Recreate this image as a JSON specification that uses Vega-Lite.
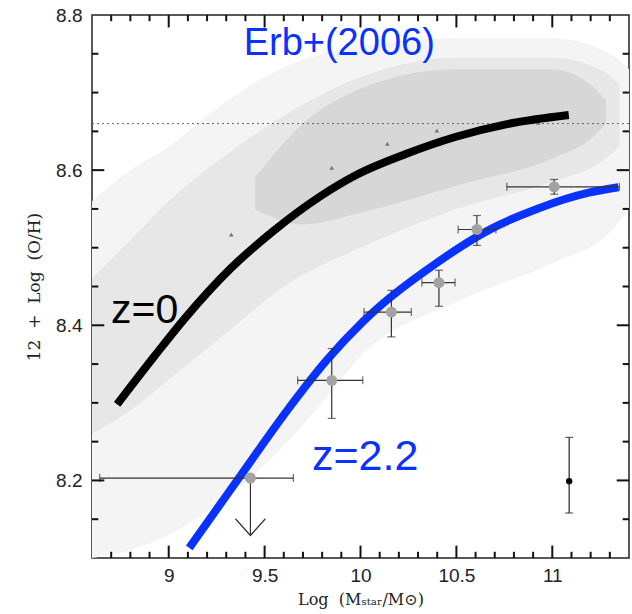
{
  "$schema": "https://vega.github.io/schema/vega-lite/v6.json",
  "width": 537,
  "height": 543,
  "autosize": {"type": "none"},
  "padding": {"left": 92, "top": 15, "right": 3, "bottom": 56},
  "background": "white",
  "config": {
    "view": {"stroke": "#222", "strokeWidth": 1.5},
    "axis": {"grid": false, "domain": false, "ticks": false, "zindex": 1, "labelOverlap": false, "labelFlush": false}
  },
  "datasets": {
    "sparse": [
      {"x": 8.6, "lo": 8.10, "hi": 8.56},
      {"x": 8.8, "lo": 8.11, "hi": 8.60},
      {"x": 9.0, "lo": 8.13, "hi": 8.63},
      {"x": 9.2, "lo": 8.16, "hi": 8.67},
      {"x": 9.5, "lo": 8.22, "hi": 8.72},
      {"x": 9.8, "lo": 8.30, "hi": 8.75},
      {"x": 10.0, "lo": 8.36, "hi": 8.76},
      {"x": 10.5, "lo": 8.43, "hi": 8.77},
      {"x": 11.0, "lo": 8.48, "hi": 8.77},
      {"x": 11.3, "lo": 8.52, "hi": 8.75},
      {"x": 11.4, "lo": 8.55, "hi": 8.73}
    ],
    "mid": [
      {"x": 8.6, "lo": 8.26, "hi": 8.46},
      {"x": 8.8, "lo": 8.29, "hi": 8.51},
      {"x": 9.0, "lo": 8.33, "hi": 8.56},
      {"x": 9.3, "lo": 8.39, "hi": 8.62},
      {"x": 9.6, "lo": 8.45, "hi": 8.67},
      {"x": 10.0, "lo": 8.50, "hi": 8.72},
      {"x": 10.5, "lo": 8.55, "hi": 8.745},
      {"x": 11.0, "lo": 8.585, "hi": 8.745},
      {"x": 11.25, "lo": 8.61, "hi": 8.73},
      {"x": 11.35, "lo": 8.63, "hi": 8.71}
    ],
    "dense": [
      {"x": 9.45, "lo": 8.55, "hi": 8.59},
      {"x": 9.7, "lo": 8.53, "hi": 8.66},
      {"x": 10.0, "lo": 8.545, "hi": 8.705},
      {"x": 10.5, "lo": 8.58, "hi": 8.73},
      {"x": 11.0, "lo": 8.615, "hi": 8.73},
      {"x": 11.2, "lo": 8.64, "hi": 8.71},
      {"x": 11.28, "lo": 8.66, "hi": 8.69}
    ],
    "medians": [
      {"x": 9.326, "y": 8.517},
      {"x": 9.85, "y": 8.603},
      {"x": 10.14, "y": 8.634},
      {"x": 10.398, "y": 8.651},
      {"x": 10.927, "y": 8.661}
    ],
    "z0": [
      {"x": 8.731, "y": 8.298},
      {"x": 8.925, "y": 8.360},
      {"x": 9.081, "y": 8.408},
      {"x": 9.322, "y": 8.473},
      {"x": 9.548, "y": 8.522},
      {"x": 9.789, "y": 8.566},
      {"x": 9.98, "y": 8.594},
      {"x": 10.239, "y": 8.621},
      {"x": 10.498, "y": 8.643},
      {"x": 10.758, "y": 8.659},
      {"x": 11.086, "y": 8.671}
    ],
    "z22": [
      {"x": 9.107, "y": 8.113},
      {"x": 9.374, "y": 8.206},
      {"x": 9.617, "y": 8.290},
      {"x": 9.824, "y": 8.355},
      {"x": 10.014, "y": 8.405},
      {"x": 10.395, "y": 8.480},
      {"x": 10.671, "y": 8.523},
      {"x": 10.93, "y": 8.551},
      {"x": 11.19, "y": 8.571},
      {"x": 11.345, "y": 8.578}
    ],
    "erb": [
      {"x": 9.426, "y": 8.203, "xlo": 8.64, "xhi": 9.65, "ylo": null, "yhi": null},
      {"x": 9.85, "y": 8.329, "xlo": 9.672, "xhi": 10.012, "ylo": 8.280, "yhi": 8.370},
      {"x": 10.161, "y": 8.417, "xlo": 10.018, "xhi": 10.265, "ylo": 8.385, "yhi": 8.445},
      {"x": 10.409, "y": 8.455, "xlo": 10.32, "xhi": 10.493, "ylo": 8.4245, "yhi": 8.471},
      {"x": 10.607, "y": 8.5235, "xlo": 10.509, "xhi": 10.706, "ylo": 8.503, "yhi": 8.5415},
      {"x": 11.01, "y": 8.5785, "xlo": 10.763, "xhi": 11.35, "ylo": 8.569, "yhi": 8.588}
    ],
    "typical": [
      {"x": 11.088, "y": 8.199, "ylo": 8.158, "yhi": 8.2555}
    ],
    "limit": [
      {"x": 9.426, "y": 8.203, "y2": 8.129}
    ],
    "arrowhead": [
      {"i": 1, "x": 9.348, "y": 8.1506},
      {"i": 2, "x": 9.426, "y": 8.129},
      {"i": 3, "x": 9.504, "y": 8.1506}
    ],
    "solar": [
      {"y": 8.66}
    ],
    "xmajor": [{"v": 9}, {"v": 9.5}, {"v": 10}, {"v": 10.5}, {"v": 11}],
    "xminor": [{"v": 8.7}, {"v": 8.8}, {"v": 8.9}, {"v": 9.1}, {"v": 9.2}, {"v": 9.3}, {"v": 9.4}, {"v": 9.6}, {"v": 9.7}, {"v": 9.8}, {"v": 9.9}, {"v": 10.1}, {"v": 10.2}, {"v": 10.3}, {"v": 10.4}, {"v": 10.6}, {"v": 10.7}, {"v": 10.8}, {"v": 10.9}, {"v": 11.1}, {"v": 11.2}, {"v": 11.3}],
    "ymajor": [{"v": 8.2}, {"v": 8.4}, {"v": 8.6}],
    "yminor": [{"v": 8.15}, {"v": 8.25}, {"v": 8.3}, {"v": 8.35}, {"v": 8.45}, {"v": 8.5}, {"v": 8.55}, {"v": 8.65}, {"v": 8.7}, {"v": 8.75}],
    "lab_erb": [{"x": 9.889, "y": 8.748, "label": "Erb+(2006)"}],
    "lab_z0": [{"x": 8.875, "y": 8.403, "label": "z=0"}],
    "lab_z22": [{"x": 10.024, "y": 8.213, "label": "z=2.2"}]
  },
  "layer": [
    {
      "data": {"name": "sparse"},
      "mark": {"type": "area", "color": "#f4f4f4", "interpolate": "monotone"},
      "encoding": {
        "x": {"field": "x", "type": "quantitative", "scale": {"domain": [8.6, 11.4], "nice": false, "zero": false},
          "axis": {
            "orient": "bottom",
            "values": [9, 9.5, 10, 10.5, 11],
            "format": "~g",
            "labelPadding": 8, "labelFont": "Liberation Sans", "labelFontSize": 19, "labelColor": "#222",
            "title": "Log\u00a0\u00a0(Mₛₜₐᵣ/M⊙)", "titleFont": "DejaVu Serif", "titleFontSize": 16,
            "titleFontWeight": "normal", "titleColor": "#222", "titlePadding": 6
          }},
        "y": {"field": "lo", "type": "quantitative", "scale": {"domain": [8.1, 8.8], "nice": false, "zero": false},
          "axis": {
            "orient": "left",
            "values": [8.2, 8.4, 8.6, 8.8],
            "format": "~g",
            "labelPadding": 10, "labelFont": "Liberation Sans", "labelFontSize": 19, "labelColor": "#222",
            "title": "12\u00a0\u00a0+\u00a0\u00a0Log\u00a0\u00a0(O/H)", "titleFont": "DejaVu Serif", "titleFontSize": 17,
            "titleFontWeight": "normal", "titleColor": "#222", "titlePadding": 12
          }},
        "y2": {"field": "hi"}
      }
    },
    {
      "data": {"name": "mid"},
      "mark": {"type": "area", "color": "#e7e7e7", "interpolate": "monotone"},
      "encoding": {
        "x": {"field": "x", "type": "quantitative", "scale": {"domain": [8.6, 11.4], "nice": false, "zero": false}, "axis": null},
        "y": {"field": "lo", "type": "quantitative", "scale": {"domain": [8.1, 8.8], "nice": false, "zero": false}, "axis": null},
        "y2": {"field": "hi"}
      }
    },
    {
      "data": {"name": "dense"},
      "mark": {"type": "area", "color": "#d7d7d7", "interpolate": "monotone"},
      "encoding": {
        "x": {"field": "x", "type": "quantitative", "scale": {"domain": [8.6, 11.4], "nice": false, "zero": false}, "axis": null},
        "y": {"field": "lo", "type": "quantitative", "scale": {"domain": [8.1, 8.8], "nice": false, "zero": false}, "axis": null},
        "y2": {"field": "hi"}
      }
    },
    {
      "data": {"name": "solar"},
      "mark": {"type": "rule", "strokeDash": [2, 3], "color": "#666", "strokeWidth": 1},
      "encoding": {
        "y": {"field": "y", "type": "quantitative", "scale": {"domain": [8.1, 8.8], "nice": false, "zero": false}, "axis": null}
      }
    },
    {
      "data": {"name": "medians"},
      "mark": {"type": "point", "shape": "triangle-up", "filled": true, "size": 22, "color": "#777", "opacity": 1},
      "encoding": {
        "x": {"field": "x", "type": "quantitative", "scale": {"domain": [8.6, 11.4], "nice": false, "zero": false}, "axis": null},
        "y": {"field": "y", "type": "quantitative", "scale": {"domain": [8.1, 8.8], "nice": false, "zero": false}, "axis": null}
      }
    },
    {
      "data": {"name": "z0"},
      "mark": {"type": "line", "color": "#000", "strokeWidth": 8, "interpolate": "monotone", "strokeCap": "butt"},
      "encoding": {
        "x": {"field": "x", "type": "quantitative", "scale": {"domain": [8.6, 11.4], "nice": false, "zero": false}, "axis": null},
        "y": {"field": "y", "type": "quantitative", "scale": {"domain": [8.1, 8.8], "nice": false, "zero": false}, "axis": null}
      }
    },
    {
      "data": {"name": "z22"},
      "mark": {"type": "line", "color": "#0a32ff", "strokeWidth": 8, "interpolate": "monotone", "strokeCap": "butt"},
      "encoding": {
        "x": {"field": "x", "type": "quantitative", "scale": {"domain": [8.6, 11.4], "nice": false, "zero": false}, "axis": null},
        "y": {"field": "y", "type": "quantitative", "scale": {"domain": [8.1, 8.8], "nice": false, "zero": false}, "axis": null}
      }
    },
    {
      "data": {"name": "erb"},
      "mark": {"type": "rule", "color": "#333", "strokeWidth": 1.2},
      "encoding": {
        "x": {"field": "xlo", "type": "quantitative", "scale": {"domain": [8.6, 11.4], "nice": false, "zero": false}, "axis": null},
        "x2": {"field": "xhi"},
        "y": {"field": "y", "type": "quantitative", "scale": {"domain": [8.1, 8.8], "nice": false, "zero": false}, "axis": null}
      }
    },
    {
      "data": {"name": "erb"},
      "mark": {"type": "tick", "orient": "vertical", "size": 8, "thickness": 1.2, "color": "#333"},
      "encoding": {
        "x": {"field": "xlo", "type": "quantitative", "scale": {"domain": [8.6, 11.4], "nice": false, "zero": false}, "axis": null},
        "y": {"field": "y", "type": "quantitative", "scale": {"domain": [8.1, 8.8], "nice": false, "zero": false}, "axis": null}
      }
    },
    {
      "data": {"name": "erb"},
      "mark": {"type": "tick", "orient": "vertical", "size": 8, "thickness": 1.2, "color": "#333"},
      "encoding": {
        "x": {"field": "xhi", "type": "quantitative", "scale": {"domain": [8.6, 11.4], "nice": false, "zero": false}, "axis": null},
        "y": {"field": "y", "type": "quantitative", "scale": {"domain": [8.1, 8.8], "nice": false, "zero": false}, "axis": null}
      }
    },
    {
      "data": {"name": "erb"},
      "transform": [{"filter": "isValid(datum.ylo)"}],
      "mark": {"type": "rule", "color": "#333", "strokeWidth": 1.2},
      "encoding": {
        "x": {"field": "x", "type": "quantitative", "scale": {"domain": [8.6, 11.4], "nice": false, "zero": false}, "axis": null},
        "y": {"field": "ylo", "type": "quantitative", "scale": {"domain": [8.1, 8.8], "nice": false, "zero": false}, "axis": null},
        "y2": {"field": "yhi"}
      }
    },
    {
      "data": {"name": "erb"},
      "transform": [{"filter": "isValid(datum.ylo)"}],
      "mark": {"type": "tick", "orient": "horizontal", "size": 8, "thickness": 1.2, "color": "#333"},
      "encoding": {
        "x": {"field": "x", "type": "quantitative", "scale": {"domain": [8.6, 11.4], "nice": false, "zero": false}, "axis": null},
        "y": {"field": "ylo", "type": "quantitative", "scale": {"domain": [8.1, 8.8], "nice": false, "zero": false}, "axis": null}
      }
    },
    {
      "data": {"name": "erb"},
      "transform": [{"filter": "isValid(datum.yhi)"}],
      "mark": {"type": "tick", "orient": "horizontal", "size": 8, "thickness": 1.2, "color": "#333"},
      "encoding": {
        "x": {"field": "x", "type": "quantitative", "scale": {"domain": [8.6, 11.4], "nice": false, "zero": false}, "axis": null},
        "y": {"field": "yhi", "type": "quantitative", "scale": {"domain": [8.1, 8.8], "nice": false, "zero": false}, "axis": null}
      }
    },
    {
      "data": {"name": "limit"},
      "mark": {"type": "rule", "color": "#333", "strokeWidth": 1.2},
      "encoding": {
        "x": {"field": "x", "type": "quantitative", "scale": {"domain": [8.6, 11.4], "nice": false, "zero": false}, "axis": null},
        "y": {"field": "y", "type": "quantitative", "scale": {"domain": [8.1, 8.8], "nice": false, "zero": false}, "axis": null},
        "y2": {"field": "y2"}
      }
    },
    {
      "data": {"name": "arrowhead"},
      "mark": {"type": "line", "color": "#333", "strokeWidth": 1.2},
      "encoding": {
        "x": {"field": "x", "type": "quantitative", "scale": {"domain": [8.6, 11.4], "nice": false, "zero": false}, "axis": null},
        "y": {"field": "y", "type": "quantitative", "scale": {"domain": [8.1, 8.8], "nice": false, "zero": false}, "axis": null},
        "order": {"field": "i"}
      }
    },
    {
      "data": {"name": "erb"},
      "mark": {"type": "circle", "size": 120, "color": "#a3a3a3", "opacity": 1},
      "encoding": {
        "x": {"field": "x", "type": "quantitative", "scale": {"domain": [8.6, 11.4], "nice": false, "zero": false}, "axis": null},
        "y": {"field": "y", "type": "quantitative", "scale": {"domain": [8.1, 8.8], "nice": false, "zero": false}, "axis": null}
      }
    },
    {
      "data": {"name": "typical"},
      "mark": {"type": "rule", "color": "#222", "strokeWidth": 1.2},
      "encoding": {
        "x": {"field": "x", "type": "quantitative", "scale": {"domain": [8.6, 11.4], "nice": false, "zero": false}, "axis": null},
        "y": {"field": "ylo", "type": "quantitative", "scale": {"domain": [8.1, 8.8], "nice": false, "zero": false}, "axis": null},
        "y2": {"field": "yhi"}
      }
    },
    {
      "data": {"name": "typical"},
      "mark": {"type": "tick", "orient": "horizontal", "size": 8, "thickness": 1.2, "color": "#222"},
      "encoding": {
        "x": {"field": "x", "type": "quantitative", "scale": {"domain": [8.6, 11.4], "nice": false, "zero": false}, "axis": null},
        "y": {"field": "ylo", "type": "quantitative", "scale": {"domain": [8.1, 8.8], "nice": false, "zero": false}, "axis": null}
      }
    },
    {
      "data": {"name": "typical"},
      "mark": {"type": "tick", "orient": "horizontal", "size": 8, "thickness": 1.2, "color": "#222"},
      "encoding": {
        "x": {"field": "x", "type": "quantitative", "scale": {"domain": [8.6, 11.4], "nice": false, "zero": false}, "axis": null},
        "y": {"field": "yhi", "type": "quantitative", "scale": {"domain": [8.1, 8.8], "nice": false, "zero": false}, "axis": null}
      }
    },
    {
      "data": {"name": "typical"},
      "mark": {"type": "circle", "size": 40, "color": "#000", "opacity": 1},
      "encoding": {
        "x": {"field": "x", "type": "quantitative", "scale": {"domain": [8.6, 11.4], "nice": false, "zero": false}, "axis": null},
        "y": {"field": "y", "type": "quantitative", "scale": {"domain": [8.1, 8.8], "nice": false, "zero": false}, "axis": null}
      }
    },
    {
      "data": {"name": "xmajor"},
      "mark": {"type": "rule", "color": "#111", "strokeWidth": 2},
      "encoding": {
        "x": {"field": "v", "type": "quantitative", "scale": {"domain": [8.6, 11.4], "nice": false, "zero": false}, "axis": null},
        "y": {"datum": 8.1, "type": "quantitative", "scale": {"domain": [8.1, 8.8], "nice": false, "zero": false}, "axis": null},
        "y2": {"datum": 8.116}
      }
    },
    {
      "data": {"name": "xmajor"},
      "mark": {"type": "rule", "color": "#111", "strokeWidth": 2},
      "encoding": {
        "x": {"field": "v", "type": "quantitative", "scale": {"domain": [8.6, 11.4], "nice": false, "zero": false}, "axis": null},
        "y": {"datum": 8.784, "type": "quantitative", "scale": {"domain": [8.1, 8.8], "nice": false, "zero": false}, "axis": null},
        "y2": {"datum": 8.8}
      }
    },
    {
      "data": {"name": "xminor"},
      "mark": {"type": "rule", "color": "#111", "strokeWidth": 2},
      "encoding": {
        "x": {"field": "v", "type": "quantitative", "scale": {"domain": [8.6, 11.4], "nice": false, "zero": false}, "axis": null},
        "y": {"datum": 8.1, "type": "quantitative", "scale": {"domain": [8.1, 8.8], "nice": false, "zero": false}, "axis": null},
        "y2": {"datum": 8.108}
      }
    },
    {
      "data": {"name": "xminor"},
      "mark": {"type": "rule", "color": "#111", "strokeWidth": 2},
      "encoding": {
        "x": {"field": "v", "type": "quantitative", "scale": {"domain": [8.6, 11.4], "nice": false, "zero": false}, "axis": null},
        "y": {"datum": 8.792, "type": "quantitative", "scale": {"domain": [8.1, 8.8], "nice": false, "zero": false}, "axis": null},
        "y2": {"datum": 8.8}
      }
    },
    {
      "data": {"name": "ymajor"},
      "mark": {"type": "rule", "color": "#111", "strokeWidth": 2},
      "encoding": {
        "y": {"field": "v", "type": "quantitative", "scale": {"domain": [8.1, 8.8], "nice": false, "zero": false}, "axis": null},
        "x": {"datum": 8.6, "type": "quantitative", "scale": {"domain": [8.6, 11.4], "nice": false, "zero": false}, "axis": null},
        "x2": {"datum": 8.664}
      }
    },
    {
      "data": {"name": "ymajor"},
      "mark": {"type": "rule", "color": "#111", "strokeWidth": 2},
      "encoding": {
        "y": {"field": "v", "type": "quantitative", "scale": {"domain": [8.1, 8.8], "nice": false, "zero": false}, "axis": null},
        "x": {"datum": 11.336, "type": "quantitative", "scale": {"domain": [8.6, 11.4], "nice": false, "zero": false}, "axis": null},
        "x2": {"datum": 11.4}
      }
    },
    {
      "data": {"name": "yminor"},
      "mark": {"type": "rule", "color": "#111", "strokeWidth": 2},
      "encoding": {
        "y": {"field": "v", "type": "quantitative", "scale": {"domain": [8.1, 8.8], "nice": false, "zero": false}, "axis": null},
        "x": {"datum": 8.6, "type": "quantitative", "scale": {"domain": [8.6, 11.4], "nice": false, "zero": false}, "axis": null},
        "x2": {"datum": 8.633}
      }
    },
    {
      "data": {"name": "yminor"},
      "mark": {"type": "rule", "color": "#111", "strokeWidth": 2},
      "encoding": {
        "y": {"field": "v", "type": "quantitative", "scale": {"domain": [8.1, 8.8], "nice": false, "zero": false}, "axis": null},
        "x": {"datum": 11.367, "type": "quantitative", "scale": {"domain": [8.6, 11.4], "nice": false, "zero": false}, "axis": null},
        "x2": {"datum": 11.4}
      }
    },
    {
      "data": {"name": "lab_erb"},
      "mark": {"type": "text", "font": "Liberation Sans", "fontSize": 38, "color": "#0a32ff", "align": "center", "baseline": "alphabetic"},
      "encoding": {
        "x": {"field": "x", "type": "quantitative", "scale": {"domain": [8.6, 11.4], "nice": false, "zero": false}, "axis": null},
        "y": {"field": "y", "type": "quantitative", "scale": {"domain": [8.1, 8.8], "nice": false, "zero": false}, "axis": null},
        "text": {"field": "label"}
      }
    },
    {
      "data": {"name": "lab_z0"},
      "mark": {"type": "text", "font": "Liberation Sans", "fontSize": 41, "color": "#000", "align": "center", "baseline": "alphabetic"},
      "encoding": {
        "x": {"field": "x", "type": "quantitative", "scale": {"domain": [8.6, 11.4], "nice": false, "zero": false}, "axis": null},
        "y": {"field": "y", "type": "quantitative", "scale": {"domain": [8.1, 8.8], "nice": false, "zero": false}, "axis": null},
        "text": {"field": "label"}
      }
    },
    {
      "data": {"name": "lab_z22"},
      "mark": {"type": "text", "font": "Liberation Sans", "fontSize": 43, "color": "#0a32ff", "align": "center", "baseline": "alphabetic"},
      "encoding": {
        "x": {"field": "x", "type": "quantitative", "scale": {"domain": [8.6, 11.4], "nice": false, "zero": false}, "axis": null},
        "y": {"field": "y", "type": "quantitative", "scale": {"domain": [8.1, 8.8], "nice": false, "zero": false}, "axis": null},
        "text": {"field": "label"}
      }
    }
  ],
  "resolve": {"axis": {"x": "independent", "y": "independent"}}
}
